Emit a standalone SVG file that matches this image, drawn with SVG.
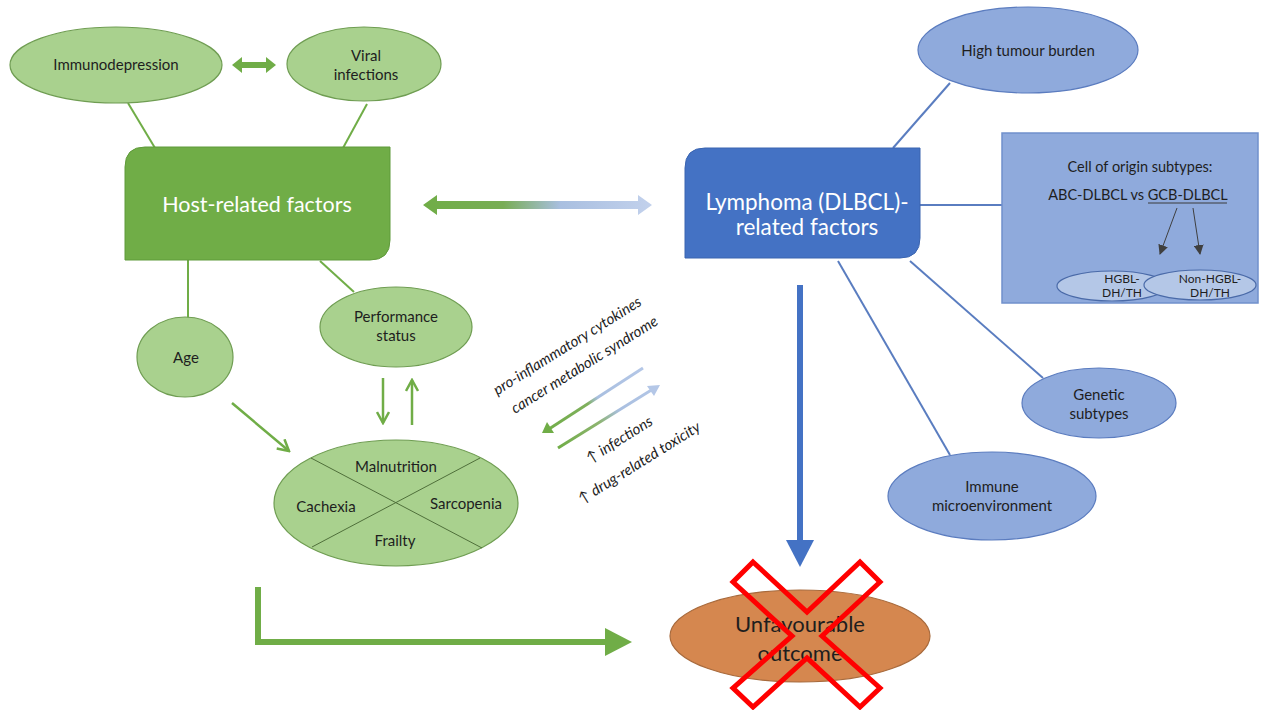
<svg xmlns="http://www.w3.org/2000/svg" width="1261" height="710" viewBox="0 0 1261 710">
<defs>
<style>
.t{font-family:Lato,"Open Sans","Liberation Sans",sans-serif;fill:#1e1e1e;text-anchor:middle}
.g{fill:#a9d18e;stroke:#6f9d52;stroke-width:1.2}
.b{fill:#8faadc;stroke:#5b7cbf;stroke-width:1.2}
.gl{stroke:#70ad47;stroke-width:2;fill:none}
.bl{stroke:#5a7dc0;stroke-width:2;fill:none}
.it{font-family:Lato,"Open Sans","Liberation Sans",sans-serif;font-style:italic;font-size:15px;fill:#1e1e1e;text-anchor:middle}
</style>
<linearGradient id="hg" gradientUnits="userSpaceOnUse" x1="423" y1="0" x2="652" y2="0">
<stop offset="0" stop-color="#70ad47"/><stop offset="0.35" stop-color="#78ad55"/><stop offset="0.6" stop-color="#a9bfe0"/><stop offset="1" stop-color="#c2d1ec"/>
</linearGradient>
<linearGradient id="dg1" gradientUnits="userSpaceOnUse" x1="542" y1="433" x2="643" y2="368">
<stop offset="0" stop-color="#70ad47"/><stop offset="0.45" stop-color="#7fb05c"/><stop offset="0.55" stop-color="#a9bfe0"/><stop offset="1" stop-color="#b4c7e7"/>
</linearGradient>
<linearGradient id="dg2" gradientUnits="userSpaceOnUse" x1="558" y1="448" x2="660" y2="385">
<stop offset="0" stop-color="#70ad47"/><stop offset="0.4" stop-color="#8db46f"/><stop offset="0.6" stop-color="#a9bfe0"/><stop offset="1" stop-color="#b4c7e7"/>
</linearGradient>
<marker id="gga" markerWidth="14" markerHeight="14" refX="12" refY="7" orient="auto" markerUnits="userSpaceOnUse">
<path d="M1,1 L12,7 L1,13" fill="none" stroke="#70ad47" stroke-width="2.5"/>
</marker>
<marker id="da" markerWidth="10" markerHeight="10" refX="9" refY="5" orient="auto" markerUnits="userSpaceOnUse">
<path d="M0,0 L10,5 L0,10 Z" fill="#3f3f3f"/>
</marker>
</defs>
<rect width="1261" height="710" fill="#ffffff"/>

<g id="connectors">
<line class="gl" x1="128" y1="103" x2="155" y2="148"/>
<line class="gl" x1="367" y1="104" x2="343" y2="148"/>
<line class="gl" x1="188" y1="260" x2="188" y2="318"/>
<line class="gl" x1="320" y1="261" x2="354" y2="292"/>
<polygon points="232,65 242,57 242,62 266,62 266,57 276,65 266,73 266,68 242,68 242,73" fill="#70ad47"/>
<line x1="383" y1="378" x2="383" y2="423" stroke="#70ad47" stroke-width="2.5" marker-end="url(#gga)"/>
<line x1="412" y1="425" x2="412" y2="380" stroke="#70ad47" stroke-width="2.5" marker-end="url(#gga)"/>
<line x1="232" y1="403" x2="289" y2="451" stroke="#70ad47" stroke-width="2.5" marker-end="url(#gga)"/>
<polyline points="258,587 258,642 608,642" fill="none" stroke="#70ad47" stroke-width="6"/>
<polygon points="605,628 632,642 605,656" fill="#70ad47"/>
<polygon points="423,205 437,195 437,201 638,201 638,195 652,205 638,215 638,209 437,209 437,215" fill="url(#hg)"/>
<line x1="643" y1="368" x2="549" y2="429" stroke="url(#dg1)" stroke-width="3"/>
<polygon points="542,433 547,422 554,433" fill="#70ad47"/>
<line x1="558" y1="448" x2="653" y2="389" stroke="url(#dg2)" stroke-width="3"/>
<polygon points="660,385 654,396 647,386" fill="#b4c7e7"/>
<line x1="800" y1="285" x2="800" y2="542" stroke="#4472c4" stroke-width="6"/>
<polygon points="786,540 814,540 800,567" fill="#4472c4"/>
<line class="bl" x1="950" y1="83" x2="893" y2="148"/>
<line class="bl" x1="920" y1="205" x2="1002" y2="205"/>
<line class="bl" x1="910" y1="261" x2="1043" y2="378"/>
<line class="bl" x1="838" y1="261" x2="950" y2="455"/>
</g>

<g id="immunodepression"><ellipse class="g" cx="116" cy="65" rx="106" ry="38"/><text class="t" x="116" y="70" font-size="15">Immunodepression</text></g>
<g id="viral"><ellipse class="g" cx="364" cy="64" rx="77" ry="37"/><text class="t" x="366" y="61" font-size="15">Viral</text><text class="t" x="366" y="80" font-size="15">infections</text></g>
<g id="host"><path d="M145,147 H390 V240 Q390,260 370,260 H125 V167 Q125,147 145,147 Z" fill="#70ad47" stroke="#5f9a3a" stroke-width="1"/><text class="t" x="257" y="212" font-size="21.5" style="fill:#ffffff">Host-related factors</text></g>
<g id="age"><ellipse class="g" cx="185" cy="357" rx="48" ry="40"/><text class="t" x="186" y="363" font-size="15">Age</text></g>
<g id="performance"><ellipse class="g" cx="396" cy="327" rx="76" ry="40"/><text class="t" x="396" y="322" font-size="15">Performance</text><text class="t" x="396" y="341" font-size="15">status</text></g>
<g id="malnutrition"><ellipse class="g" cx="396" cy="503" rx="122" ry="63"/><line x1="311" y1="458" x2="482" y2="548" stroke="#4f6f3a" stroke-width="1"/><line x1="480" y1="458" x2="312" y2="547" stroke="#4f6f3a" stroke-width="1"/>
<text class="t" x="396" y="472" font-size="15">Malnutrition</text><text class="t" x="326" y="512" font-size="15">Cachexia</text><text class="t" x="466" y="509" font-size="15">Sarcopenia</text><text class="t" x="395" y="546" font-size="15">Frailty</text></g>

<g id="mid-labels">
<text class="it" transform="translate(570,350) rotate(-32)">pro-inflammatory cytokines</text>
<text class="it" transform="translate(587,369) rotate(-32)">cancer metabolic syndrome</text>
<text class="it" transform="translate(622,444) rotate(-32)">↑ infections</text>
<text class="it" transform="translate(642,467) rotate(-32)">↑ drug-related toxicity</text>
</g>

<g id="lymphoma"><path d="M705,148 H920 V238 Q920,258 900,258 H685 V168 Q685,148 705,148 Z" fill="#4472c4" stroke="#3a64b0" stroke-width="1"/><text class="t" x="807" y="210" font-size="22.5" style="fill:#ffffff">Lymphoma (DLBCL)-</text><text class="t" x="807" y="235" font-size="22.5" style="fill:#ffffff">related factors</text></g>
<g id="tumour"><ellipse class="b" cx="1028" cy="50" rx="110" ry="43"/><text class="t" x="1028" y="56" font-size="15">High tumour burden</text></g>
<g id="cell-origin"><rect x="1002" y="133" width="256" height="170" fill="#8faadc" stroke="#7090cc" stroke-width="1.5"/>
<text class="t" x="1140" y="172" font-size="14.5">Cell of origin subtypes:</text>
<text class="t" x="1138" y="200" font-size="14.5">ABC-DLBCL vs GCB-DLBCL</text>
<line x1="1148" y1="203" x2="1227" y2="203" stroke="#3a3a3a" stroke-width="1"/>
<line x1="1177" y1="208" x2="1160" y2="254" stroke="#3f3f3f" stroke-width="1" marker-end="url(#da)"/>
<line x1="1193" y1="208" x2="1200" y2="254" stroke="#3f3f3f" stroke-width="1" marker-end="url(#da)"/>
<ellipse cx="1112" cy="286" rx="55" ry="15" fill="#b4c7e7" stroke="#4a6aa8" stroke-width="1.2"/>
<ellipse cx="1200" cy="285" rx="56" ry="15" fill="#b4c7e7" stroke="#4a6aa8" stroke-width="1.2"/>
<text class="t" x="1122" y="283" font-size="12">HGBL-</text><text class="t" x="1122" y="297" font-size="12">DH/TH</text>
<text class="t" x="1210" y="283" font-size="12">Non-HGBL-</text><text class="t" x="1210" y="297" font-size="12">DH/TH</text></g>
<g id="genetic"><ellipse class="b" cx="1099" cy="403" rx="77" ry="35"/><text class="t" x="1099" y="400" font-size="15">Genetic</text><text class="t" x="1099" y="419" font-size="15">subtypes</text></g>
<g id="immune"><ellipse class="b" cx="992" cy="496" rx="104" ry="44"/><text class="t" x="992" y="492" font-size="15">Immune</text><text class="t" x="992" y="511" font-size="15">microenvironment</text></g>
<g id="outcome"><ellipse cx="800" cy="636" rx="130" ry="46" fill="#d5874f" stroke="#a86a3c" stroke-width="1.2"/><text class="t" x="800" y="632" font-size="22">Unfavourable</text><text class="t" x="800" y="661" font-size="22">outcome</text>
<polygon points="753,562 807,612 860,562 880,582 822,636 880,688 860,707 807,658 753,707 733,688 792,636 733,582" fill="none" stroke="#ff0000" stroke-width="5" stroke-linejoin="miter"/></g>
</svg>
